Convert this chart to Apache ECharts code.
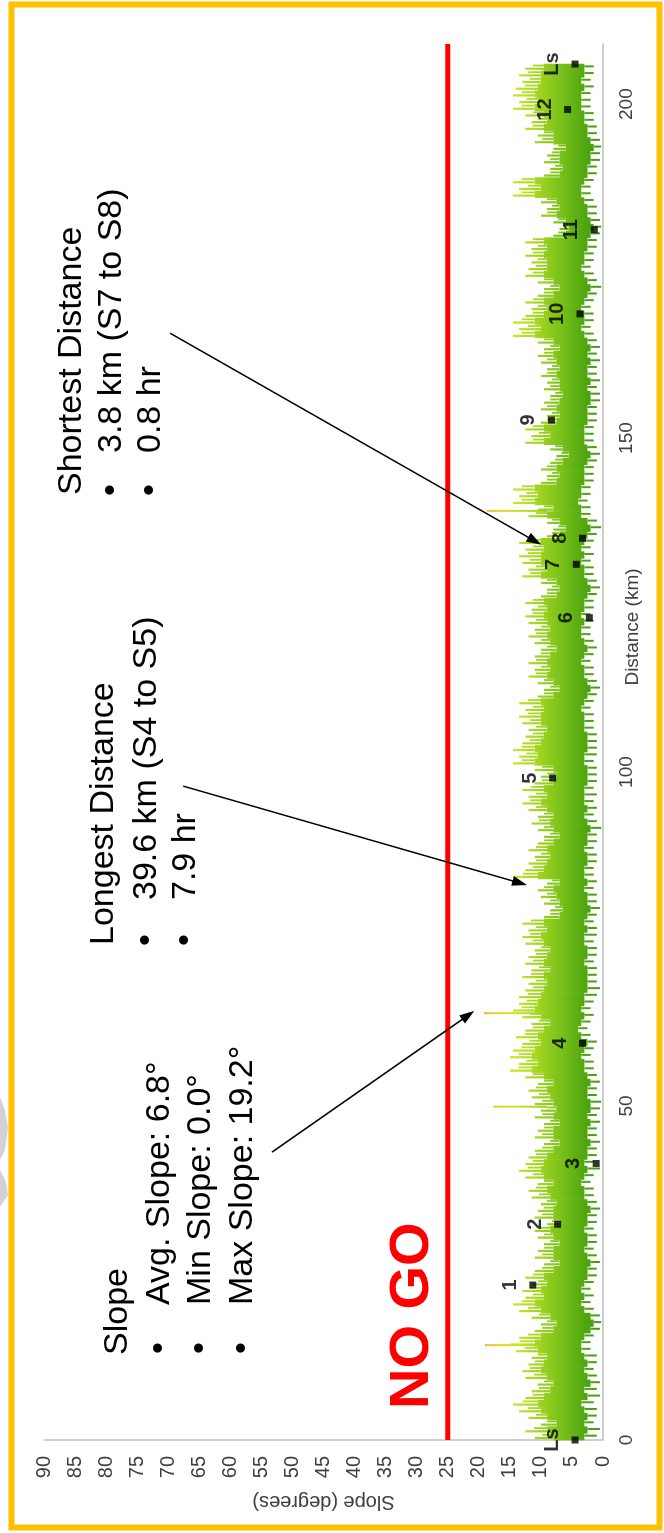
<!DOCTYPE html>
<html><head><meta charset="utf-8">
<script src="https://cdn.jsdelivr.net/npm/echarts@6/dist/echarts.min.js"></script>
<style>
html,body{margin:0;padding:0;width:664px;height:1533px;overflow:hidden;background:#fff}
#wrap{position:absolute;left:0;top:0;width:1533px;height:664px;transform-origin:0 0;transform:translate(0,1533px) rotate(-90deg);background:#fff}
</style></head>
<body><div id="wrap"></div>
<script>
// ---- data (1 km bins, km 0..205): extreme low, solid core low, solid core high, extreme high (degrees)
const slopeLow = [
1,0.5,1.5,1,1,1.5,0.5,1,0.5,1,
1.5,1,1,2,2,1.5,0.5,0.3,0.5,1.5,
2,1.5,2,1.5,1,1,0.5,1,1.5,1,
1,1.5,1,1,0.5,1,1.5,1.5,2,1.5,
0.5,1.5,1,1,0.5,1,1,0.5,1,0.5,
0.3,1,1,0.5,1,1.5,1.5,2,1.5,1,
2,2.5,2,1.5,2,1.5,1,0.5,1,1,
1,1.5,1,1,1.5,1,1,1.5,1,0.5,
1,1,1.5,1,1.5,1.5,1,1,1.5,1,
1,0.3,1,1.5,1,1.5,1,1.5,1,1,
1,1.5,1,1,1,1,1.5,1.5,1.5,2,
1.5,1,0.5,1,1.5,1.5,2,1.5,1,1.5,
2,2,1.5,2,1.5,1.5,1,0.5,1,1.5,
1.5,2,1.5,2,1.5,1,0.3,1,2,2,
2.5,2,2,1.5,1.5,1.5,1,0.5,1,1.5,
1.5,1.5,1,1,1,0.5,0.5,1,0.5,1,
1,0.5,1,0.5,1,1.5,2,1.5,1.5,2,
1.5,1,0.3,1,1.5,2,1.5,1.5,1,1,
0.5,0.3,0.5,1,1,1.5,2,2,1.5,1,
1,0.5,0.5,0.3,0.5,1,1,1.5,1.5,2,
2,2,1.5,2,1.5,1.5];
const slopeCoreLow = [
3,2.5,3,2.5,3,3.5,2.5,3,2,2.5,
3,2.5,3,3.5,3.5,3,2,1.5,2,3,
3.5,3,3.5,3,2.5,2.5,2,2.5,3,2.5,
2.5,3,2.5,2.5,2,2.5,3,3,3.5,3,
2.5,3,2.5,2.5,2,2.5,2.5,2,2.5,2,
2,2.5,2.5,2,2.5,3,3,3.5,3,2.5,
3.5,4,3.5,3,3.5,3,3,2.5,2.5,2.5,
2.5,3,2.5,2.5,3,3,2.5,3,2.5,2,
2.5,2.5,3,2.5,3,3,2.5,2.5,3,2.5,
2.5,2,2.5,3,2.5,3,3,3,2.5,2.5,
2.5,3,3,2.5,2.5,2.5,3,3,3,3.5,
3,2.5,2,2.5,3,3,3.5,3,2.5,3,
3.5,3.5,3,3.5,3,3,2.5,2,2.5,3,
3,3.5,3,3.5,3,2.5,2,2.5,3.5,3.5,
4,3.5,3.5,3,3,3,2.5,2,2.5,3,
3,3,2.5,2.5,2.5,2,2,2.5,2,2.5,
2.5,2,2.5,2,2.5,3,3.5,3,3,3.5,
3,2.5,2,2.5,3,3.5,3,3,2.5,2.5,
2,1.5,2,2.5,2.5,3,3.5,3.5,3,2.5,
2.5,2,2,1.5,2,2.5,2.5,3,3,3.5,
3.5,3.5,3,3.5,3,3];
const slopeCoreHigh = [
8,9,7.5,9,10,10.5,9.5,8.5,8,9,
10,9.5,9,10.5,11,10,8,7.5,8.5,10,
11,9.5,10,9,9.5,8,7,8,8,7,
8,8.5,7,8,8,7.5,8.5,9,8,9.5,
10,9.5,9,8,7,8,8,7,8,7.5,
8,8.5,9,8,9.5,11.5,10.5,11.5,11,10,
10.5,9.5,8.5,10,11,10.5,10,9.5,9,9.5,
8.5,9.5,9,8.5,9.5,10,9,9.5,7,6.5,
7,7.5,8,7,10.5,9.5,9,8.5,9,8,
7,8,8.5,8,9,10,9,9.5,8,7.5,
8,11,10.5,11,10,9.5,9,10,10,9.5,
10,8,7,8,9,8.5,9,8.5,7.5,8.5,
9,8.5,9,9.5,9,9.5,7.5,7,7.5,10,
9,10,10,9.5,10,7,6,7,9,8,
11,10.5,11,7.5,7,7.5,6.5,5.5,6.5,9.5,
8.5,9.5,7.5,7,7.5,7,6.5,7,7,7.5,
7,7.5,8,7,8,11,10,11,9.5,9,
9.5,8,7,8,9.5,9,9,9.5,9,9.5,
6,5.5,6,7.5,7,7.5,11,10,11,7,
6.5,7,7,6,8,8,9.5,9,9.5,11,
10.5,11,10.5,10,10,9.5];
const slopeHigh = [
11,12.5,10,12,13.5,14.5,12.5,11.5,10.5,12.5,
13,12,11.5,14,15,13.5,11,10,11.5,13.5,
14.5,12.5,13,11.5,12.5,11,9.5,11,10.5,9.5,
10.5,11,9,11,10.5,10,11.5,12,10.5,12.5,
13.5,12.5,12,11,9.5,11,10.5,9.5,11,10,
11,11.5,12,10.5,12.5,15,13.5,15,14.5,13,
14,12.5,11.5,13,14.5,13.5,13.5,12.5,12,13,
11.5,12.5,12,11,12.5,13,12,13,9.5,8.5,
9.5,10,10.5,9,14.5,12.5,12,11,12,10.5,
9.5,10.5,11.5,10.5,12,13,12,13,11,10,
11,14.5,13.5,14.5,13,12.5,12,13,13.5,12.5,
13.5,10.5,9.5,10.5,12,11,12,11,10,11,
12,11,12,12.5,11.5,12.5,10,9,10,13,
12,13,13.5,12.5,13.5,9,8,9,12,10.5,
14.5,13.5,14.5,10,9,10,8.5,7.5,8.5,12.5,
11.5,12.5,10,9,10,9.5,8.5,9.5,9,10,
9,10,10.5,9.5,10.5,14.5,13.5,14.5,12.5,11.5,
12.5,10.5,9.5,10.5,12.5,12,11.5,12.5,11.5,12.5,
8,7,8,10,9,10,14.5,13.5,14.5,9.5,
8.5,9.5,9,8,11,10.5,12.5,11.5,12.5,14.5,
13.5,14.5,14,13,13.5,12.5];
// isolated steep spikes
const spikeKm = [14.2, 49.9, 63.9, 139.1];
const spikeSlope = [19.0, 17.7, 19.2, 18.7];
// stops
const stopKm = [0, 23.2, 32.3, 41.4, 59.4, 99.1, 123.1, 131.1, 135.0, 152.7, 168.6, 181.2, 199.2, 206.0];
const stopSlope = [4.5, 11.3, 7.3, 1.1, 3.3, 8.1, 2.2, 4.3, 3.3, 8.3, 3.7, 1.4, 5.7, 4.5];
const stopLabels = ['Ls','1','2','3','4','5','6','7','8','9','10','11','12','Ls'];
const noGoSlope = 25;
const distanceRange = [0, 209];
const slopeRange = [0, 90];
// annotation arrows [fromKm, fromSlope, toKm, toSlope]
const arrowSlope = [43.1, 53.3, 63.6, 21.7];
const arrowLongest = [97.9, 67.6, 83.4, 13.4];
const arrowShortest = [165.7, 69.7, 134.6, 11.0];

const FONT = '"Liberation Sans", Arial, Helvetica, sans-serif';
const gradStops = [
  {offset:0, color:'#3a9908'},
  {offset:0.15, color:'#50a70f'},
  {offset:0.35, color:'#7cc21a'},
  {offset:0.55, color:'#a8d822'},
  {offset:0.7, color:'#c4e628'},
  {offset:0.82, color:'#dedc22'},
  {offset:0.92, color:'#f0c030'},
  {offset:1, color:'#f2a93a'}
];
function grad(api){
  const a = api.coord([0,0])[1], b = api.coord([0,20])[1];
  return new echarts.graphic.LinearGradient(0, a, 0, b, gradStops, true);
}

const profileData = slopeHigh.map((h,i)=>[i, slopeLow[i], slopeCoreLow[i], slopeCoreHigh[i], h]);
const spikeData = spikeKm.map((k,i)=>[k, spikeSlope[i]]);
const stopData = stopKm.map((k,i)=>[k, stopSlope[i]]);

const chart = echarts.init(document.getElementById('wrap'), null, {renderer:'canvas'});

function txt(x, y, text, size, opts){
  opts = opts || {};
  return {type:'text', x:x, y:y, z:50, silent:true,
    style:{text:text, font:(opts.bold?'bold ':'')+size+'px '+FONT, fill:opts.fill||'#000',
      align:opts.align||'left', verticalAlign:'middle', textAlign:opts.align||'left', textVerticalAlign:'middle'}};
}
function arrowLine(a){
  return [{coord:[a[0],a[1]]},{coord:[a[2],a[3]]}];
}

const TS = 34;
chart.setOption({
  animation:false,
  backgroundColor:'#ffffff',
  grid:{left:93, right:44, top:44, bottom:61},
  xAxis:{type:'value', min:distanceRange[0], max:distanceRange[1], interval:50,
    axisLine:{show:true, onZero:false, lineStyle:{color:'#bfbfbf', width:1.5}},
    axisTick:{show:false}, splitLine:{show:false},
    axisLabel:{fontSize:19, color:'#404040', margin:14, fontFamily:FONT, showMaxLabel:false}},
  yAxis:{type:'value', min:slopeRange[0], max:slopeRange[1], interval:5,
    name:'Slope (degrees)', nameLocation:'middle', nameGap:52,
    nameTextStyle:{fontSize:20, color:'#404040', fontFamily:FONT},
    axisLine:{show:true, lineStyle:{color:'#bfbfbf', width:1.5}},
    axisTick:{show:false}, splitLine:{show:false},
    axisLabel:{fontSize:20, color:'#404040', margin:16, fontFamily:FONT}},
  series:[
    {type:'line', name:'limit', data:[[distanceRange[0],noGoSlope],[distanceRange[1],noGoSlope]],
      symbol:'none', lineStyle:{color:'#ff0000', width:5}, z:3, silent:true},
    {type:'custom', name:'profile', data:profileData, z:4, silent:true,
      renderItem:function(params, api){
        const d = api.value(0);
        const x0 = api.coord([d,0])[0], x1 = api.coord([d+1,0])[0];
        const w = x1 - x0;
        const yLo = api.coord([d, api.value(1)])[1];
        const yCL = api.coord([d, api.value(2)])[1];
        const yCH = api.coord([d, api.value(3)])[1];
        const yHi = api.coord([d, api.value(4)])[1];
        const g = grad(api);
        return {type:'group', children:[
          {type:'rect', shape:{x:x0-0.3, y:yCH, width:w+0.6, height:yCL-yCH}, style:{fill:g}},
          {type:'line', shape:{x1:x0+w*0.3, y1:yCH, x2:x0+w*0.3, y2:yHi}, style:{stroke:g, lineWidth:2.2}},
          {type:'line', shape:{x1:x0+w*0.78, y1:yCH, x2:x0+w*0.78, y2:yHi+(yCH-yHi)*0.4}, style:{stroke:g, lineWidth:1.8}},
          {type:'line', shape:{x1:x0+w*0.65, y1:yCL, x2:x0+w*0.65, y2:yLo}, style:{stroke:g, lineWidth:2}}
        ]};
      }},
    {type:'custom', name:'spikes', data:spikeData, z:4, silent:true,
      renderItem:function(params, api){
        const p = api.coord([api.value(0), api.value(1)]);
        const b = api.coord([api.value(0), 9]);
        return {type:'line', shape:{x1:p[0], y1:b[1], x2:p[0], y2:p[1]}, style:{stroke:grad(api), lineWidth:2}};
      }},
    {type:'scatter', name:'stops', data:stopData, z:6, silent:true,
      symbol:'rect', symbolSize:7, itemStyle:{color:'#000'},
      label:{show:true, position:'top', distance:9, fontSize:20, fontWeight:'bold', color:'#000', fontFamily:FONT,
        formatter:function(p){return stopLabels[p.dataIndex];}},
      markLine:{silent:true, symbol:['none','triangle'], symbolSize:[10,15], animation:false,
        lineStyle:{color:'#000', width:1.5, type:'solid'}, label:{show:false},
        data:[arrowLine(arrowSlope), arrowLine(arrowLongest), arrowLine(arrowShortest)]}}
  ],
  graphic:[
    {type:'polygon', z:90, silent:true, shape:{points:[[436,0],[423,5],[405,8],[383,5],[373,0]]}, style:{fill:'#d2d2d2'}},
    {type:'polygon', z:90, silent:true, shape:{points:[[363,0],[351,6],[338,8],[326,0]]}, style:{fill:'#d2d2d2'}},
    {type:'rect', z:100, silent:true, shape:{x:5.5, y:11.5, width:1523, height:648}, style:{fill:'none', stroke:'#FFC000', lineWidth:6}},
    txt(906, 633, 'Distance (km)', 19, {align:'center', fill:'#404040'}),
    txt(124, 413, 'NO GO', 56, {bold:true, fill:'#ff0000'}),
    txt(178, 118, 'Slope', TS),
    txt(185, 160, '•', TS, {align:'center'}), txt(228, 160, 'Avg. Slope: 6.8°', TS),
    txt(185, 201, '•', TS, {align:'center'}), txt(228, 201, 'Min Slope: 0.0°', TS),
    txt(185, 243, '•', TS, {align:'center'}), txt(228, 243, 'Max Slope: 19.2°', TS),
    txt(588, 104, 'Longest Distance', TS),
    txt(593, 147, '•', TS, {align:'center'}), txt(633, 147, '39.6 km (S4 to S5)', TS),
    txt(593, 186, '•', TS, {align:'center'}), txt(633, 186, '7.9 hr', TS),
    txt(1038, 72, 'Shortest Distance', TS),
    txt(1043, 112, '•', TS, {align:'center'}), txt(1080, 112, '3.8 km (S7 to S8)', TS),
    txt(1043, 151, '•', TS, {align:'center'}), txt(1080, 151, '0.8 hr', TS)
  ]
});
</script>
</body></html>
